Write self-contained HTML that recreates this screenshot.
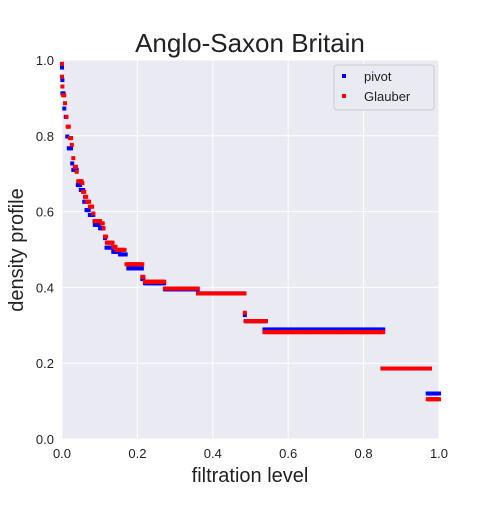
<!DOCTYPE html>
<html><head><meta charset="utf-8">
<style>
body{margin:0;background:#fff;font-family:"Liberation Sans",Arial,sans-serif;}
svg text{font-family:"Liberation Sans",Arial,sans-serif;}
</style></head>
<body>
<svg id="chart" width="500" height="500" viewBox="0 0 500 500" xmlns="http://www.w3.org/2000/svg">
<rect width="500" height="500" fill="#fff"/>
<rect x="62" y="60" width="377" height="379" fill="#eaeaf2"/>
<g id="grid"></g>
<g id="ticks"></g>
<g id="marks"></g>
<text x="250" y="52" text-anchor="middle" font-size="26" fill="#222">Anglo-Saxon Britain</text>
<text x="250" y="482" text-anchor="middle" font-size="20" fill="#222">filtration level</text>
<text transform="translate(23,250) rotate(-90)" text-anchor="middle" font-size="20" fill="#222">density profile</text>
<g>
<rect x="334" y="65" width="100" height="45" rx="3" fill="#eaeaf2" stroke="#ccc" stroke-width="1"/>
<rect x="342" y="74" width="4" height="4" fill="#0000ff"/>
<text x="364" y="81" font-size="13" fill="#222">pivot</text>
<rect x="342" y="94" width="4" height="4" fill="#ff0000"/>
<text x="364" y="101" font-size="13" fill="#222">Glauber</text>
</g>
</svg>
<script>
const xTicks=[0,0.2,0.4,0.6,0.8,1.0];
const yTicks=[0,0.2,0.4,0.6,0.8,1.0];
const xTickLabels=["0.0","0.2","0.4","0.6","0.8","1.0"];
const yTickLabels=["0.0","0.2","0.4","0.6","0.8","1.0"];
// pivot steps: start x, end x, y
const pivotStart=[0,0.001,0.001,0.006,0.010,0.014,0.018,0.027,0.030,0.042,0.050,0.059,0.065,0.074,0.087,0.101,0.114,0.118,0.136,0.154,0.176,0.213,0.220,0.273,0.361,0.485,0.487,0.537,0.850,0.970];
const pivotEnd  =[0,0.001,0.004,0.008,0.012,0.016,0.025,0.028,0.040,0.048,0.057,0.063,0.072,0.085,0.099,0.112,0.116,0.134,0.152,0.169,0.213,0.216,0.273,0.361,0.485,0.485,0.542,0.852,0.978,1.0];
const pivotY    =[0.98,0.947,0.912,0.872,0.850,0.798,0.767,0.727,0.710,0.670,0.657,0.626,0.604,0.591,0.565,0.556,0.530,0.505,0.494,0.487,0.450,0.422,0.411,0.395,0.384,0.327,0.311,0.289,0.186,0.120];
// Glauber steps
const glauberStart=[0,0,0.001,0.003,0.008,0.012,0.015,0.021,0.026,0.030,0.034,0.039,0.043,0.054,0.056,0.061,0.066,0.074,0.083,0.086,0.105,0.110,0.114,0.119,0.136,0.145,0.171,0.213,0.220,0.273,0.361,0.485,0.487,0.537,0.850,0.970];
const glauberEnd  =[0,0,0.002,0.006,0.010,0.013,0.019,0.024,0.028,0.032,0.037,0.041,0.052,0.054,0.059,0.064,0.072,0.081,0.084,0.103,0.108,0.112,0.117,0.134,0.143,0.167,0.213,0.216,0.273,0.361,0.485,0.485,0.542,0.852,0.978,1.0];
const glauberY    =[0.99,0.956,0.930,0.907,0.886,0.850,0.824,0.794,0.776,0.741,0.718,0.705,0.680,0.675,0.652,0.639,0.626,0.613,0.595,0.575,0.569,0.556,0.534,0.518,0.507,0.499,0.461,0.428,0.415,0.397,0.384,0.333,0.311,0.282,0.186,0.105];

const X0=62,X1=439,Y0=439,Y1=60;
const sx=v=>X0+(X1-X0)*v;
const sy=v=>Y0-(Y0-Y1)*v;
const NS="http://www.w3.org/2000/svg";
const grid=document.getElementById('grid'),ticks=document.getElementById('ticks'),marks=document.getElementById('marks');
xTicks.forEach((t,i)=>{
  const l=document.createElementNS(NS,'line');
  
  
  l.setAttribute('x1',sx(t));l.setAttribute('x2',sx(t));l.setAttribute('y1',Y1);l.setAttribute('y2',Y0);
  l.setAttribute('stroke','#fff');l.setAttribute('stroke-width','1');
  grid.appendChild(l);
  const tx=document.createElementNS(NS,'text');
  
  
  tx.setAttribute('x',sx(t));tx.setAttribute('y',Y0+19);tx.setAttribute('text-anchor','middle');tx.setAttribute('font-size','13');tx.setAttribute('fill','#222');
  tx.textContent=xTickLabels[i];ticks.appendChild(tx);
});
yTicks.forEach((t,i)=>{
  const l=document.createElementNS(NS,'line');
  
  
  l.setAttribute('x1',X0);l.setAttribute('x2',X1);l.setAttribute('y1',sy(t));l.setAttribute('y2',sy(t));
  l.setAttribute('stroke','#fff');l.setAttribute('stroke-width','1');
  grid.appendChild(l);
  const tx=document.createElementNS(NS,'text');
  
  
  tx.setAttribute('x',X0-8);tx.setAttribute('y',sy(t)+5);tx.setAttribute('text-anchor','end');tx.setAttribute('font-size','13');tx.setAttribute('fill','#222');
  tx.textContent=yTickLabels[i];ticks.appendChild(tx);
});
function drawSeries(starts,ends,ys,color,name){
  const g=document.createElementNS(NS,'g');
  
  
  for(let i=0;i<starts.length;i++){
    for(let x=starts[i];x<=ends[i]+1e-9;x+=0.003){
      const r=document.createElementNS(NS,'rect');
      
      
      r.setAttribute('x',sx(x)-2);r.setAttribute('y',sy(ys[i])-2);
      r.setAttribute('width',4);r.setAttribute('height',4);r.setAttribute('fill',color);
      g.appendChild(r);
      if(ends[i]===starts[i])break;
    }
  }
  marks.appendChild(g);
}
drawSeries(pivotStart,pivotEnd,pivotY,'#0000ff','pivot-series');
drawSeries(glauberStart,glauberEnd,glauberY,'#ff0000','glauber-series');
</script>
</body></html>
